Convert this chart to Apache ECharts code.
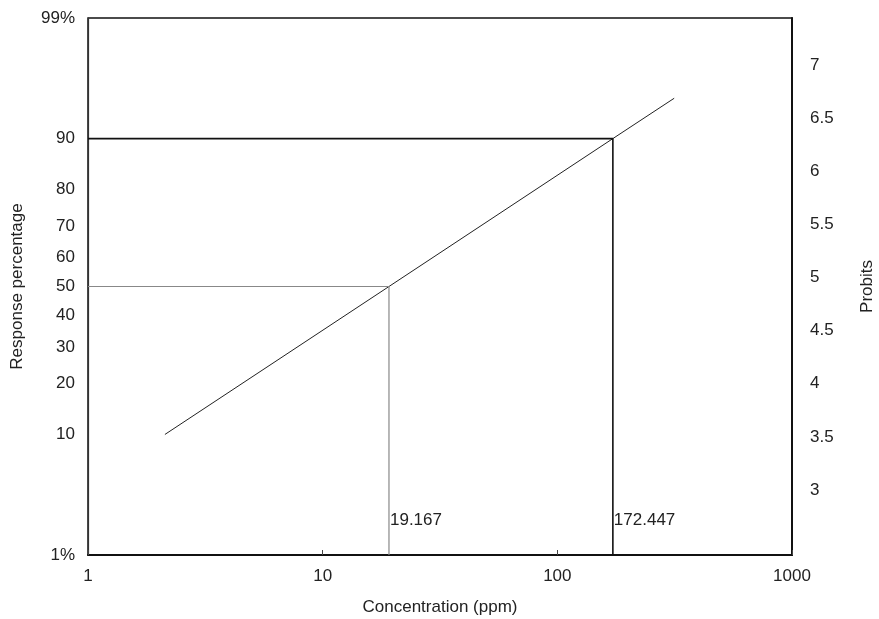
<!DOCTYPE html>
<html>
<head>
<meta charset="utf-8">
<script src="https://cdn.jsdelivr.net/npm/echarts@6/dist/echarts.min.js"></script>
<style>html,body{margin:0;padding:0;background:#fff}#c{width:879px;height:619px}</style>
</head>
<body>
<div id="c"></div>
<script>
// Left axis: response percentage labels placed at their probit values
const percentLabels = ['1%', '10', '20', '30', '40', '50', '60', '70', '80', '90', '99%'];
const percentProbits = [2.6737, 3.7184, 4.1584, 4.4756, 4.7467, 5.0, 5.2533, 5.5244, 5.8416, 6.2816, 7.3263];
// Right axis: probit tick labels
const probitTicks = [3, 3.5, 4, 4.5, 5, 5.5, 6, 6.5, 7];
// X axis ticks
const concTicks = [1, 10, 100, 1000];
// Regression line (concentration, probit)
const lineConc = [2.127, 19.167, 172.447, 314.7];
const lineProbit = [3.718, 5.0, 6.2816, 6.631];
// LC50 / LC90 markers
const lc50 = 19.167, lc90 = 172.447;
const lc50Label = '19.167', lc90Label = '172.447';

const FONT = '"Liberation Sans", Arial, sans-serif';
const FS = 17;
const chart = echarts.init(document.getElementById('c'));
const pMin = percentProbits[0], pMax = percentProbits[percentProbits.length - 1];

chart.setOption({
  animation: false,
  backgroundColor: '#fff',
  grid: { left: 88, right: 87, top: 18, bottom: 64, outerBoundsMode: 'none', containLabel: false,
    show: true, borderColor: '#111', borderWidth: 1.5, backgroundColor: 'transparent' },
  xAxis: {
    type: 'log', logBase: 10, min: 1, max: 1000,
    name: 'Concentration (ppm)', nameLocation: 'middle', nameGap: 44,
    nameTextStyle: { fontFamily: FONT, fontSize: FS, color: '#222' },
    axisLine: { show: true, lineStyle: { color: '#111', width: 2 } },
    axisTick: { show: true, inside: true, length: 5, lineStyle: { color: '#444' } },
    minorTick: { show: false },
    splitLine: { show: false },
    axisLabel: { fontFamily: FONT, fontSize: FS, color: '#222', margin: 13,
      customValues: concTicks, formatter: v => String(v) }
  },
  yAxis: [
    {
      type: 'value', min: pMin, max: pMax, position: 'left',
      name: 'Response percentage', nameLocation: 'middle', nameGap: 62, nameRotate: 90,
      nameTextStyle: { fontFamily: FONT, fontSize: FS, color: '#222' },
      axisLine: { show: true, lineStyle: { color: '#333', width: 1.2 } },
      axisTick: { show: false },
      splitLine: { show: false },
      axisLabel: { fontFamily: FONT, fontSize: FS, color: '#222', margin: 13,
        customValues: percentProbits,
        formatter: v => {
          let best = 0;
          percentProbits.forEach((p, i) => { if (Math.abs(p - v) < Math.abs(percentProbits[best] - v)) best = i; });
          return percentLabels[best];
        } }
    },
    {
      type: 'value', min: 2.389, max: 7.442, position: 'right',
      name: 'Probits', nameLocation: 'middle', nameGap: 67, nameRotate: 90,
      nameTextStyle: { fontFamily: FONT, fontSize: FS, color: '#222' },
      axisLine: { show: true, lineStyle: { color: '#111', width: 2 } },
      axisTick: { show: false },
      splitLine: { show: false },
      axisLabel: { fontFamily: FONT, fontSize: FS, color: '#222', margin: 18,
        customValues: probitTicks, formatter: v => String(v) }
    }
  ],
  series: [
    {
      type: 'line', yAxisIndex: 0, symbol: 'none', silent: true,
      data: lineConc.map((c, i) => [c, lineProbit[i]]),
      lineStyle: { color: '#222', width: 1 }
    },
    {
      type: 'line', yAxisIndex: 0, symbol: 'none', silent: true,
      data: [[1, percentProbits[5]], [lc50, percentProbits[5]], [lc50, pMin]],
      lineStyle: { color: '#888', width: 1.2 }
    },
    {
      type: 'line', yAxisIndex: 0, symbol: 'none', silent: true,
      data: [[1, percentProbits[9]], [lc90, percentProbits[9]], [lc90, pMin]],
      lineStyle: { color: '#111', width: 1.6 }
    },
    {
      type: 'scatter', yAxisIndex: 0, symbolSize: 0, silent: true,
      itemStyle: { opacity: 1, color: '#222' },
      data: [
        { value: [lc50, 2.97], label: { formatter: lc50Label } },
        { value: [lc90, 2.97], label: { formatter: lc90Label } }
      ],
      label: { show: true, position: 'right', distance: 1, fontFamily: FONT, fontSize: FS, color: '#222', opacity: 1 }
    }
  ]
});
</script>
</body>
</html>
